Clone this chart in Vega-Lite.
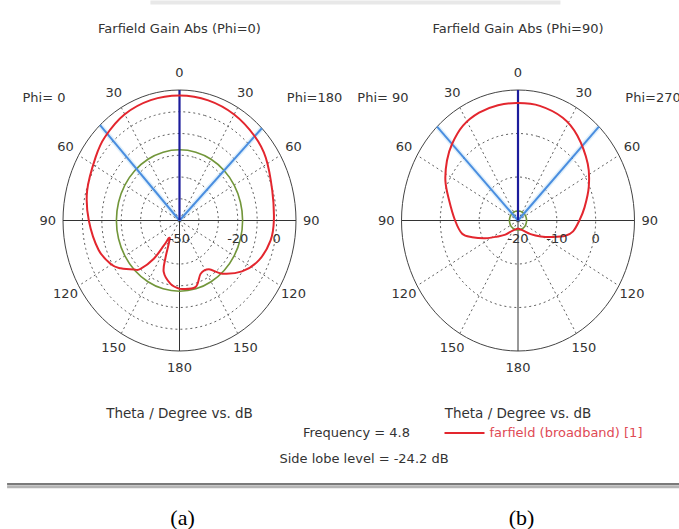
{
  "$schema": "https://vega.github.io/schema/vega-lite/v6.json",
  "background": "white",
  "padding": {"left": 5, "top": 0, "right": 0, "bottom": 0},
  "config": {
    "view": {"stroke": null},
    "text": {"font": "DejaVu Sans", "fontSize": 13, "color": "#333"}
  },
  "bounds": "flush",
  "spacing": 105.5,
  "resolve": {"legend": {"color": "independent"}, "scale": {"color": "independent"}},
  "hconcat": [
    {
      "width": 233,
      "height": 261,
      "encoding": {
        "x": {"field": "px", "type": "quantitative", "scale": {"domain": [-1, 1], "nice": false, "zero": false}, "axis": null},
        "y": {"field": "py", "type": "quantitative", "scale": {"domain": [-1, 1], "nice": false, "zero": false}, "axis": null}
      },
      "layer": [
        {
          "data": {"values": [{"a": -43, "r": [0, 1]}, {"a": 45, "r": [0, 1]}]},
          "transform": [
            {"flatten": ["r"]},
            {"calculate": "datum.r * sin(datum.a * PI / 180)", "as": "px"},
            {"calculate": "datum.r * cos(datum.a * PI / 180)", "as": "py"}
          ],
          "mark": {"type": "line", "stroke": "#e2f1fb", "strokeWidth": 5},
          "encoding": {"detail": {"field": "a", "type": "nominal"}, "order": {"field": "r", "type": "quantitative"}}
        },
        {
          "data": {"values": [{"level": [-40, -30, -20, -10, 0], "a": [0, 15, 30, 45, 60, 75, 90, 105, 120, 135, 150, 165, 180, 195, 210, 225, 240, 255, 270, 285, 300, 315, 330, 345]}]},
          "transform": [
            {"flatten": ["level"]},
            {"flatten": ["a"]},
            {"calculate": "(datum.level + 50) / 60", "as": "r"},
            {"calculate": "datum.r * sin(datum.a * PI / 180)", "as": "px"},
            {"calculate": "datum.r * cos(datum.a * PI / 180)", "as": "py"}
          ],
          "mark": {"type": "line", "interpolate": "cardinal-closed", "stroke": "#606060", "strokeWidth": 1, "strokeDash": [2, 3]},
          "encoding": {"detail": {"field": "level", "type": "nominal"}, "order": {"field": "a", "type": "quantitative"}}
        },
        {
          "data": {"values": [
            {"a": 30, "r": [0, 1]}, {"a": 60, "r": [0, 1]}, {"a": 120, "r": [0, 1]}, {"a": 150, "r": [0, 1]},
            {"a": -30, "r": [0, 1]}, {"a": -60, "r": [0, 1]}, {"a": -120, "r": [0, 1]}, {"a": -150, "r": [0, 1]}
          ]},
          "transform": [
            {"flatten": ["r"]},
            {"calculate": "datum.r * sin(datum.a * PI / 180)", "as": "px"},
            {"calculate": "datum.r * cos(datum.a * PI / 180)", "as": "py"}
          ],
          "mark": {"type": "line", "stroke": "#606060", "strokeWidth": 1, "strokeDash": [2, 3]},
          "encoding": {"detail": {"field": "a", "type": "nominal"}, "order": {"field": "r", "type": "quantitative"}}
        },
        {
          "data": {"values": [{"level": [10], "a": [0, 15, 30, 45, 60, 75, 90, 105, 120, 135, 150, 165, 180, 195, 210, 225, 240, 255, 270, 285, 300, 315, 330, 345]}]},
          "transform": [
            {"flatten": ["level"]},
            {"flatten": ["a"]},
            {"calculate": "(datum.level + 50) / 60", "as": "r"},
            {"calculate": "datum.r * sin(datum.a * PI / 180)", "as": "px"},
            {"calculate": "datum.r * cos(datum.a * PI / 180)", "as": "py"}
          ],
          "mark": {"type": "line", "interpolate": "cardinal-closed", "stroke": "#444", "strokeWidth": 1},
          "encoding": {"order": {"field": "a", "type": "quantitative"}}
        },
        {
          "data": {"values": [{"a": 90, "r": [0, 1]}, {"a": -90, "r": [0, 1]}, {"a": 180, "r": [0, 1]}]},
          "transform": [
            {"flatten": ["r"]},
            {"calculate": "datum.r * sin(datum.a * PI / 180)", "as": "px"},
            {"calculate": "datum.r * cos(datum.a * PI / 180)", "as": "py"}
          ],
          "mark": {"type": "line", "stroke": "#333", "strokeWidth": 1},
          "encoding": {"detail": {"field": "a", "type": "nominal"}, "order": {"field": "r", "type": "quantitative"}}
        },
        {
          "data": {"values": [{"level": [-17.5], "a": [0, 15, 30, 45, 60, 75, 90, 105, 120, 135, 150, 165, 180, 195, 210, 225, 240, 255, 270, 285, 300, 315, 330, 345]}]},
          "transform": [
            {"flatten": ["level"]},
            {"flatten": ["a"]},
            {"calculate": "(datum.level + 50) / 60", "as": "r"},
            {"calculate": "datum.r * sin(datum.a * PI / 180)", "as": "px"},
            {"calculate": "datum.r * cos(datum.a * PI / 180)", "as": "py"}
          ],
          "mark": {"type": "line", "interpolate": "cardinal-closed", "stroke": "#72963a", "strokeWidth": 1.6},
          "encoding": {"order": {"field": "a", "type": "quantitative"}}
        },
        {
          "data": {"values": [{"a": -43, "r": [0, 1]}, {"a": 45, "r": [0, 1]}]},
          "transform": [
            {"flatten": ["r"]},
            {"calculate": "datum.r * sin(datum.a * PI / 180)", "as": "px"},
            {"calculate": "datum.r * cos(datum.a * PI / 180)", "as": "py"}
          ],
          "mark": {"type": "line", "stroke": "#4a8ee0", "strokeWidth": 2},
          "encoding": {"detail": {"field": "a", "type": "nominal"}, "order": {"field": "r", "type": "quantitative"}}
        },
        {
          "data": {"values": [{"a": 0, "r": [0, 1]}]},
          "transform": [
            {"flatten": ["r"]},
            {"calculate": "datum.r * sin(datum.a * PI / 180)", "as": "px"},
            {"calculate": "datum.r * cos(datum.a * PI / 180)", "as": "py"}
          ],
          "mark": {"type": "line", "stroke": "#1c1c9c", "strokeWidth": 2.2},
          "encoding": {"order": {"field": "r", "type": "quantitative"}}
        },
        {
          "data": {"values": [
            {"a": -180, "dB": -18.6}, {"a": -171, "dB": -20.5}, {"a": -161, "dB": -25}, {"a": -157, "dB": -31.7},
            {"a": -148, "dB": -40.5}, {"a": -145, "dB": -36}, {"a": -143, "dB": -28}, {"a": -138, "dB": -20},
            {"a": -134, "dB": -17.5}, {"a": -126, "dB": -12.6}, {"a": -120, "dB": -9.5}, {"a": -108, "dB": -6.2},
            {"a": -90, "dB": -3.3}, {"a": -74, "dB": -0.5}, {"a": -56, "dB": 2.1}, {"a": -45, "dB": 4.3},
            {"a": -30, "dB": 6.4}, {"a": -15, "dB": 7.3}, {"a": 0, "dB": 7.5}, {"a": 15, "dB": 7.2},
            {"a": 30, "dB": 6.3}, {"a": 45, "dB": 4.8}, {"a": 57, "dB": 3.0}, {"a": 74, "dB": -0.3},
            {"a": 90, "dB": -1.4}, {"a": 101, "dB": -2.2}, {"a": 114, "dB": -5.2}, {"a": 126, "dB": -10.2},
            {"a": 138, "dB": -17.1}, {"a": 146, "dB": -22.9}, {"a": 156, "dB": -23.2}, {"a": 165, "dB": -18.3},
            {"a": 180, "dB": -18.6}
          ]},
          "transform": [
            {"calculate": "(datum.dB + 50) / 60", "as": "r"},
            {"calculate": "datum.r * sin(datum.a * PI / 180)", "as": "px"},
            {"calculate": "datum.r * cos(datum.a * PI / 180)", "as": "py"}
          ],
          "mark": {"type": "line", "interpolate": "cardinal", "stroke": "#e3262e", "strokeWidth": 2},
          "encoding": {"order": {"field": "a", "type": "quantitative"}}
        },
        {
          "data": {"values": [
            {"a": 0, "t": "0"}, {"a": -30, "t": "30"}, {"a": 30, "t": "30"}, {"a": -60, "t": "60"}, {"a": 60, "t": "60"},
            {"a": -90, "t": "90"}, {"a": 90, "t": "90"}, {"a": -120, "t": "120"}, {"a": 120, "t": "120"},
            {"a": -150, "t": "150"}, {"a": 150, "t": "150"}, {"a": 180, "t": "180"}
          ]},
          "transform": [
            {"calculate": "1.13 * sin(datum.a * PI / 180)", "as": "px"},
            {"calculate": "1.13 * cos(datum.a * PI / 180)", "as": "py"}
          ],
          "mark": {"type": "text", "align": "center", "baseline": "middle"},
          "encoding": {"text": {"field": "t"}}
        },
        {
          "data": {"values": [{"level": -50, "t": "-50"}, {"level": -20, "t": "-20"}, {"level": 0, "t": "0"}]},
          "transform": [
            {"calculate": "(datum.level + 50) / 60", "as": "px"},
            {"calculate": "-0.14", "as": "py"}
          ],
          "mark": {"type": "text", "align": "center", "baseline": "middle"},
          "encoding": {"text": {"field": "t"}}
        },
        {
          "data": {"values": [{"t": "Farfield Gain Abs (Phi=0)"}]},
          "transform": [{"calculate": "0", "as": "px"}, {"calculate": "1.471", "as": "py"}],
          "mark": {"type": "text", "align": "center", "baseline": "middle"},
          "encoding": {"text": {"field": "t"}}
        },
        {
          "data": {"values": [{"t": "Phi= 0"}]},
          "transform": [{"calculate": "-1.163", "as": "px"}, {"calculate": "0.935", "as": "py"}],
          "mark": {"type": "text", "align": "center", "baseline": "middle"},
          "encoding": {"text": {"field": "t"}}
        },
        {
          "data": {"values": [{"t": "Phi=180"}]},
          "transform": [{"calculate": "1.159", "as": "px"}, {"calculate": "0.935", "as": "py"}],
          "mark": {"type": "text", "align": "center", "baseline": "middle"},
          "encoding": {"text": {"field": "t"}}
        },
        {
          "data": {"values": [{"t": "Theta / Degree vs. dB"}]},
          "transform": [{"calculate": "0", "as": "px"}, {"calculate": "-1.48", "as": "py"}],
          "mark": {"type": "text", "align": "center", "baseline": "middle", "fontSize": 13.5},
          "encoding": {"text": {"field": "t"}}
        },
        {
          "data": {"values": [{"t": "(a)"}]},
          "transform": [{"calculate": "0.026", "as": "px"}, {"calculate": "-2.283", "as": "py"}],
          "mark": {"type": "text", "align": "center", "baseline": "middle", "font": "Liberation Serif", "fontSize": 22, "color": "#000"},
          "encoding": {"text": {"field": "t"}}
        },
        {
          "data": {"values": [{"t": "shadow"}]},
          "transform": [{"calculate": "-1.48", "as": "px"}, {"calculate": "4.6", "as": "px2"}, {"calculate": "-2.04", "as": "py"}],
          "mark": {"type": "rule", "stroke": "#b4b4b4", "strokeWidth": 3},
          "encoding": {"x2": {"field": "px2"}}
        },
        {
          "data": {"values": [{"t": "shadow"}]},
          "transform": [{"calculate": "-1.48", "as": "px"}, {"calculate": "4.6", "as": "px2"}, {"calculate": "-2.02", "as": "py"}],
          "mark": {"type": "rule", "stroke": "#7a7a7a", "strokeWidth": 2},
          "encoding": {"x2": {"field": "px2"}}
        },
        {
          "data": {"values": [{"t": "top"}]},
          "transform": [{"calculate": "-0.25", "as": "px"}, {"calculate": "3.27", "as": "px2"}, {"calculate": "1.67", "as": "py"}],
          "mark": {"type": "rule", "stroke": "#e8e8e8", "strokeWidth": 4},
          "encoding": {"x2": {"field": "px2"}}
        }
      ]
    },
    {
      "width": 233,
      "height": 261,
      "encoding": {
        "x": {"field": "px", "type": "quantitative", "scale": {"domain": [-1, 1], "nice": false, "zero": false}, "axis": null},
        "y": {"field": "py", "type": "quantitative", "scale": {"domain": [-1, 1], "nice": false, "zero": false}, "axis": null}
      },
      "layer": [
        {
          "data": {"values": [{"a": -44, "r": [0, 1]}, {"a": 44, "r": [0, 1]}]},
          "transform": [
            {"flatten": ["r"]},
            {"calculate": "datum.r * sin(datum.a * PI / 180)", "as": "px"},
            {"calculate": "datum.r * cos(datum.a * PI / 180)", "as": "py"}
          ],
          "mark": {"type": "line", "stroke": "#e2f1fb", "strokeWidth": 5},
          "encoding": {"detail": {"field": "a", "type": "nominal"}, "order": {"field": "r", "type": "quantitative"}}
        },
        {
          "data": {"values": [{"level": [-10, 0], "a": [0, 15, 30, 45, 60, 75, 90, 105, 120, 135, 150, 165, 180, 195, 210, 225, 240, 255, 270, 285, 300, 315, 330, 345]}]},
          "transform": [
            {"flatten": ["level"]},
            {"flatten": ["a"]},
            {"calculate": "(datum.level + 20) / 30", "as": "r"},
            {"calculate": "datum.r * sin(datum.a * PI / 180)", "as": "px"},
            {"calculate": "datum.r * cos(datum.a * PI / 180)", "as": "py"}
          ],
          "mark": {"type": "line", "interpolate": "cardinal-closed", "stroke": "#606060", "strokeWidth": 1, "strokeDash": [2, 3]},
          "encoding": {"detail": {"field": "level", "type": "nominal"}, "order": {"field": "a", "type": "quantitative"}}
        },
        {
          "data": {"values": [
            {"a": 30, "r": [0, 1]}, {"a": 60, "r": [0, 1]}, {"a": 120, "r": [0, 1]}, {"a": 150, "r": [0, 1]},
            {"a": -30, "r": [0, 1]}, {"a": -60, "r": [0, 1]}, {"a": -120, "r": [0, 1]}, {"a": -150, "r": [0, 1]}
          ]},
          "transform": [
            {"flatten": ["r"]},
            {"calculate": "datum.r * sin(datum.a * PI / 180)", "as": "px"},
            {"calculate": "datum.r * cos(datum.a * PI / 180)", "as": "py"}
          ],
          "mark": {"type": "line", "stroke": "#606060", "strokeWidth": 1, "strokeDash": [2, 3]},
          "encoding": {"detail": {"field": "a", "type": "nominal"}, "order": {"field": "r", "type": "quantitative"}}
        },
        {
          "data": {"values": [{"level": [10], "a": [0, 15, 30, 45, 60, 75, 90, 105, 120, 135, 150, 165, 180, 195, 210, 225, 240, 255, 270, 285, 300, 315, 330, 345]}]},
          "transform": [
            {"flatten": ["level"]},
            {"flatten": ["a"]},
            {"calculate": "(datum.level + 20) / 30", "as": "r"},
            {"calculate": "datum.r * sin(datum.a * PI / 180)", "as": "px"},
            {"calculate": "datum.r * cos(datum.a * PI / 180)", "as": "py"}
          ],
          "mark": {"type": "line", "interpolate": "cardinal-closed", "stroke": "#444", "strokeWidth": 1},
          "encoding": {"order": {"field": "a", "type": "quantitative"}}
        },
        {
          "data": {"values": [{"a": 90, "r": [0, 1]}, {"a": -90, "r": [0, 1]}, {"a": 180, "r": [0, 1]}]},
          "transform": [
            {"flatten": ["r"]},
            {"calculate": "datum.r * sin(datum.a * PI / 180)", "as": "px"},
            {"calculate": "datum.r * cos(datum.a * PI / 180)", "as": "py"}
          ],
          "mark": {"type": "line", "stroke": "#333", "strokeWidth": 1},
          "encoding": {"detail": {"field": "a", "type": "nominal"}, "order": {"field": "r", "type": "quantitative"}}
        },
        {
          "data": {"values": [{"level": [-17.8], "a": [0, 15, 30, 45, 60, 75, 90, 105, 120, 135, 150, 165, 180, 195, 210, 225, 240, 255, 270, 285, 300, 315, 330, 345]}]},
          "transform": [
            {"flatten": ["level"]},
            {"flatten": ["a"]},
            {"calculate": "(datum.level + 20) / 30", "as": "r"},
            {"calculate": "datum.r * sin(datum.a * PI / 180)", "as": "px"},
            {"calculate": "datum.r * cos(datum.a * PI / 180)", "as": "py"}
          ],
          "mark": {"type": "line", "interpolate": "cardinal-closed", "stroke": "#72963a", "strokeWidth": 1.6},
          "encoding": {"order": {"field": "a", "type": "quantitative"}}
        },
        {
          "data": {"values": [{"a": -44, "r": [0, 1]}, {"a": 44, "r": [0, 1]}]},
          "transform": [
            {"flatten": ["r"]},
            {"calculate": "datum.r * sin(datum.a * PI / 180)", "as": "px"},
            {"calculate": "datum.r * cos(datum.a * PI / 180)", "as": "py"}
          ],
          "mark": {"type": "line", "stroke": "#4a8ee0", "strokeWidth": 2},
          "encoding": {"detail": {"field": "a", "type": "nominal"}, "order": {"field": "r", "type": "quantitative"}}
        },
        {
          "data": {"values": [{"a": 0, "r": [0, 1]}]},
          "transform": [
            {"flatten": ["r"]},
            {"calculate": "datum.r * sin(datum.a * PI / 180)", "as": "px"},
            {"calculate": "datum.r * cos(datum.a * PI / 180)", "as": "py"}
          ],
          "mark": {"type": "line", "stroke": "#1c1c9c", "strokeWidth": 2.2},
          "encoding": {"order": {"field": "r", "type": "quantitative"}}
        },
        {
          "data": {"values": [
            {"a": -180, "dB": -18.2}, {"a": -149, "dB": -17.3}, {"a": -135, "dB": -15.4}, {"a": -125, "dB": -13.6},
            {"a": -116, "dB": -10.7}, {"a": -108, "dB": -7.6}, {"a": -102, "dB": -5.3},
            {"a": -90, "dB": -3.8}, {"a": -75, "dB": -1.6}, {"a": -64, "dB": 0.8},
            {"a": -53, "dB": 2.9}, {"a": -44, "dB": 4.45}, {"a": -33, "dB": 6.0}, {"a": -22, "dB": 6.75},
            {"a": -11, "dB": 7.0}, {"a": 0, "dB": 7.0}, {"a": 12, "dB": 6.95}, {"a": 26, "dB": 6.3},
            {"a": 38, "dB": 4.8}, {"a": 54, "dB": 2.2}, {"a": 67, "dB": -0.2}, {"a": 80, "dB": -2.6},
            {"a": 90, "dB": -4.2}, {"a": 100, "dB": -5.6}, {"a": 106, "dB": -7.3}, {"a": 113, "dB": -10.3},
            {"a": 122, "dB": -13.1}, {"a": 134, "dB": -15.5}, {"a": 149, "dB": -17.3}, {"a": 180, "dB": -18.2}
          ]},
          "transform": [
            {"calculate": "(datum.dB + 20) / 30", "as": "r"},
            {"calculate": "datum.r * sin(datum.a * PI / 180)", "as": "px"},
            {"calculate": "datum.r * cos(datum.a * PI / 180)", "as": "py"}
          ],
          "mark": {"type": "line", "interpolate": "cardinal", "strokeWidth": 2},
          "encoding": {
            "order": {"field": "a", "type": "quantitative"},
            "color": {
              "datum": "farfield (broadband) [1]",
              "type": "nominal",
              "scale": {"range": ["#e3262e"]},
              "legend": {
                "orient": "none", "legendX": 42, "legendY": 322, "title": null,
                "symbolType": "stroke", "symbolSize": 1600, "symbolStrokeWidth": 2,
                "labelFont": "DejaVu Sans", "labelFontSize": 13, "labelColor": "#e04a55", "labelOffset": 4
              }
            }
          }
        },
        {
          "data": {"values": [
            {"a": 0, "t": "0"}, {"a": -30, "t": "30"}, {"a": 30, "t": "30"}, {"a": -60, "t": "60"}, {"a": 60, "t": "60"},
            {"a": -90, "t": "90"}, {"a": 90, "t": "90"}, {"a": -120, "t": "120"}, {"a": 120, "t": "120"},
            {"a": -150, "t": "150"}, {"a": 150, "t": "150"}, {"a": 180, "t": "180"}
          ]},
          "transform": [
            {"calculate": "1.13 * sin(datum.a * PI / 180)", "as": "px"},
            {"calculate": "1.13 * cos(datum.a * PI / 180)", "as": "py"}
          ],
          "mark": {"type": "text", "align": "center", "baseline": "middle"},
          "encoding": {"text": {"field": "t"}}
        },
        {
          "data": {"values": [{"level": -20, "t": "-20"}, {"level": -10, "t": "-10"}, {"level": 0, "t": "0"}]},
          "transform": [
            {"calculate": "(datum.level + 20) / 30", "as": "px"},
            {"calculate": "-0.14", "as": "py"}
          ],
          "mark": {"type": "text", "align": "center", "baseline": "middle"},
          "encoding": {"text": {"field": "t"}}
        },
        {
          "data": {"values": [{"t": "Farfield Gain Abs (Phi=90)"}]},
          "transform": [{"calculate": "0", "as": "px"}, {"calculate": "1.471", "as": "py"}],
          "mark": {"type": "text", "align": "center", "baseline": "middle"},
          "encoding": {"text": {"field": "t"}}
        },
        {
          "data": {"values": [{"t": "Phi= 90"}]},
          "transform": [{"calculate": "-1.159", "as": "px"}, {"calculate": "0.935", "as": "py"}],
          "mark": {"type": "text", "align": "center", "baseline": "middle"},
          "encoding": {"text": {"field": "t"}}
        },
        {
          "data": {"values": [{"t": "Phi=270"}]},
          "transform": [{"calculate": "1.159", "as": "px"}, {"calculate": "0.935", "as": "py"}],
          "mark": {"type": "text", "align": "center", "baseline": "middle"},
          "encoding": {"text": {"field": "t"}}
        },
        {
          "data": {"values": [{"t": "Theta / Degree vs. dB"}]},
          "transform": [{"calculate": "0", "as": "px"}, {"calculate": "-1.48", "as": "py"}],
          "mark": {"type": "text", "align": "center", "baseline": "middle", "fontSize": 13.5},
          "encoding": {"text": {"field": "t"}}
        },
        {
          "data": {"values": [{"t": "Frequency = 4.8"}]},
          "transform": [{"calculate": "-1.386", "as": "px"}, {"calculate": "-1.625", "as": "py"}],
          "mark": {"type": "text", "align": "center", "baseline": "middle"},
          "encoding": {"text": {"field": "t"}}
        },
        {
          "data": {"values": [{"t": "Side lobe level =  -24.2 dB"}]},
          "transform": [{"calculate": "-1.322", "as": "px"}, {"calculate": "-1.824", "as": "py"}],
          "mark": {"type": "text", "align": "center", "baseline": "middle"},
          "encoding": {"text": {"field": "t"}}
        },
        {
          "data": {"values": [{"t": "(b)"}]},
          "transform": [{"calculate": "0.03", "as": "px"}, {"calculate": "-2.283", "as": "py"}],
          "mark": {"type": "text", "align": "center", "baseline": "middle", "font": "Liberation Serif", "fontSize": 22, "color": "#000"},
          "encoding": {"text": {"field": "t"}}
        }
      ]
    }
  ]
}
